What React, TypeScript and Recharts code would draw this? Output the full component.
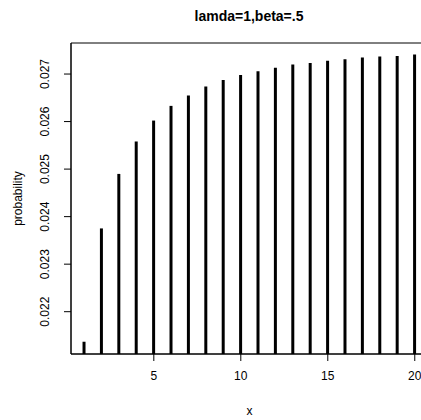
import { ComposedChart, Bar, XAxis, YAxis, ReferenceArea } from 'recharts'

// lamda=1, beta=.5 — probabilidades por x (type="h")
const xs = [1, 2, 3, 4, 5, 6, 7, 8, 9, 10, 11, 12, 13, 14, 15, 16, 17, 18, 19, 20]
const probs = [
  0.021368, 0.023752, 0.024899, 0.025581, 0.026021, 0.02633, 0.026547, 0.026737, 0.026874, 0.02698,
  0.02706, 0.02713, 0.0272, 0.02723, 0.02728, 0.02731, 0.02735, 0.02737, 0.02738, 0.02741,
]
const xTicks = [5, 10, 15, 20]
const yTicks = [0.022, 0.023, 0.024, 0.025, 0.026, 0.027]

const data = xs.map((x, i) => ({ x, p: probs[i] }))

const X_DOMAIN: [number, number] = [0.24, 20.76]
const Y_DOMAIN: [number, number] = [0.02111, 0.027653]
const FONT = 'Liberation Sans, Arial, sans-serif'

const YTick = (props: any) => {
  const { x, y, payload } = props
  return (
    <text
      x={x - 17}
      y={y}
      transform={`rotate(-90, ${x - 17}, ${y})`}
      textAnchor="middle"
      dominantBaseline="central"
      fontSize={12}
      fontFamily={FONT}
      fill="#000"
    >
      {payload.value.toFixed(3)}
    </text>
  )
}

export default function App() {
  return (
    <div style={{ position: 'absolute', left: 0, top: 0, width: 421, height: 420, overflow: 'hidden', background: '#fff' }}>
      <div
        style={{
          position: 'absolute', left: 0, top: 8, width: 498, textAlign: 'center',
          fontFamily: FONT, fontWeight: 'bold', fontSize: 14, color: '#000',
        }}
      >
        lamda=1,beta=.5
      </div>
      <ComposedChart width={432} height={420} data={data} margin={{ top: 43, right: 4, left: 0, bottom: 0 }}>
        <XAxis
          dataKey="x"
          type="number"
          domain={X_DOMAIN}
          allowDataOverflow
          ticks={xTicks}
          height={66}
          tickSize={7}
          tickMargin={10}
          stroke="#000"
          tick={{ fill: '#000', fontSize: 12, fontFamily: FONT }}
          label={{ value: 'x', position: 'insideBottom', offset: 5, fill: '#000', fontSize: 12, fontFamily: FONT }}
        />
        <YAxis
          type="number"
          domain={Y_DOMAIN}
          allowDataOverflow
          ticks={yTicks}
          width={71}
          tickSize={7}
          stroke="#000"
          tick={<YTick />}
          label={{ value: 'probability', angle: -90, position: 'insideLeft', offset: 18, fill: '#000', fontSize: 12, fontFamily: FONT, style: { textAnchor: 'middle' } }}
        />
        <ReferenceArea
          x1={X_DOMAIN[0]}
          x2={X_DOMAIN[1]}
          y1={Y_DOMAIN[0]}
          y2={Y_DOMAIN[1]}
          fill="none"
          stroke="#000"
          strokeWidth={1}
          ifOverflow="visible"
        />
        <Bar dataKey="p" fill="#000" barSize={3} isAnimationActive={false} />
      </ComposedChart>
    </div>
  )
}
